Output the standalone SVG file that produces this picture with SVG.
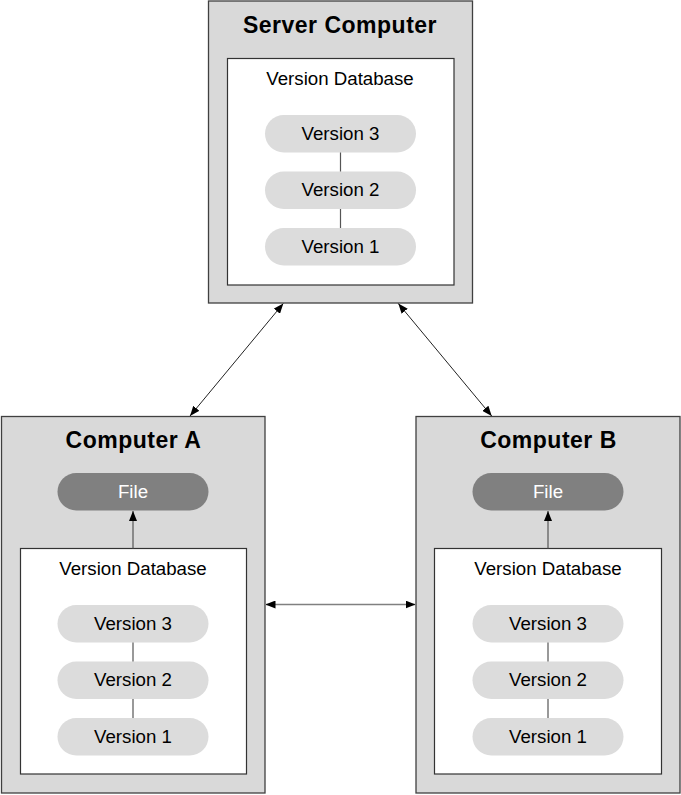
<svg xmlns="http://www.w3.org/2000/svg" width="681" height="795" viewBox="0 0 681 795">
  <style>
    .computer { fill: #d9d9d9; stroke: #404040; stroke-width: 1.3; }
    .db { fill: #ffffff; stroke: #333333; stroke-width: 1.2; }
    .ver { fill: #dcdcdc; }
    .file { fill: #808080; }
    .title { font-family: "Liberation Sans", Arial, sans-serif; font-weight: bold; font-size: 23px; letter-spacing: 0.5px; fill: #000; text-anchor: middle; }
    .lbl { font-family: "Liberation Sans", Arial, sans-serif; font-size: 18.7px; fill: #000; text-anchor: middle; }
    .flbl { font-family: "Liberation Sans", Arial, sans-serif; font-size: 18.7px; fill: #ffffff; text-anchor: middle; }
    .link { stroke: #555555; stroke-width: 1.2; fill: none; }
    .sync { stroke: #222222; stroke-width: 1; fill: none; }
    .hsync { stroke: #808080; stroke-width: 1.6; fill: none; }
  </style>
  <defs>
    <marker id="head" viewBox="0 0 10 8" refX="10" refY="4" markerWidth="10" markerHeight="8" markerUnits="userSpaceOnUse" orient="auto-start-reverse">
      <path d="M0,0 L10,4 L0,8 Z" fill="#000"/>
    </marker>
  </defs>

  <g id="server">
    <rect class="computer" x="208.5" y="1" width="264" height="302"/>
    <text class="title" x="340" y="33">Server Computer</text>
    <rect class="db" x="227.5" y="58.5" width="226.5" height="226.5"/>
    <text class="lbl" x="340" y="84.5">Version Database</text>
    <rect class="ver" x="265" y="115" width="151" height="37.5" rx="18.75"/>
    <text class="lbl" x="340.5" y="139.5">Version 3</text>
    <rect class="ver" x="265" y="171.5" width="151" height="37.5" rx="18.75"/>
    <text class="lbl" x="340.5" y="196">Version 2</text>
    <rect class="ver" x="265" y="228" width="151" height="37.5" rx="18.75"/>
    <text class="lbl" x="340.5" y="252.5">Version 1</text>
  </g>

  <g id="computer-a">
    <rect class="computer" x="1.5" y="416.5" width="263.5" height="376.5"/>
    <text class="title" x="133.5" y="448">Computer A</text>
    <rect class="file" x="57.5" y="473" width="151" height="37.5" rx="18.75"/>
    <text class="flbl" x="133" y="497.5">File</text>
    <rect class="db" x="20.5" y="548.5" width="226" height="225.5"/>
    <text class="lbl" x="133" y="575.2">Version Database</text>
    <rect class="ver" x="57.5" y="605" width="151" height="37.5" rx="18.75"/>
    <text class="lbl" x="133" y="629.5">Version 3</text>
    <rect class="ver" x="57.5" y="661.5" width="151" height="37.5" rx="18.75"/>
    <text class="lbl" x="133" y="686">Version 2</text>
    <rect class="ver" x="57.5" y="718" width="151" height="37.5" rx="18.75"/>
    <text class="lbl" x="133" y="742.5">Version 1</text>
  </g>

  <g id="computer-b">
    <rect class="computer" x="416" y="416.5" width="264" height="376.5"/>
    <text class="title" x="548.5" y="448">Computer B</text>
    <rect class="file" x="472.5" y="473" width="151" height="37.5" rx="18.75"/>
    <text class="flbl" x="548" y="497.5">File</text>
    <rect class="db" x="434.5" y="548.5" width="227" height="225.5"/>
    <text class="lbl" x="548" y="575.2">Version Database</text>
    <rect class="ver" x="472.5" y="605" width="151" height="37.5" rx="18.75"/>
    <text class="lbl" x="548" y="629.5">Version 3</text>
    <rect class="ver" x="472.5" y="661.5" width="151" height="37.5" rx="18.75"/>
    <text class="lbl" x="548" y="686">Version 2</text>
    <rect class="ver" x="472.5" y="718" width="151" height="37.5" rx="18.75"/>
    <text class="lbl" x="548" y="742.5">Version 1</text>
  </g>

  <g id="connectors">
    <!-- version history links -->
    <line class="link" x1="340.5" y1="152.5" x2="340.5" y2="171.5"/>
    <line class="link" x1="340.5" y1="209" x2="340.5" y2="228"/>
    <line class="link" x1="133" y1="642.5" x2="133" y2="661.5"/>
    <line class="link" x1="133" y1="699" x2="133" y2="718"/>
    <line class="link" x1="548" y1="642.5" x2="548" y2="661.5"/>
    <line class="link" x1="548" y1="699" x2="548" y2="718"/>
    <!-- checkout to working file -->
    <line class="link" x1="133" y1="548.5" x2="133" y2="511" marker-end="url(#head)"/>
    <line class="link" x1="548" y1="548.5" x2="548" y2="511" marker-end="url(#head)"/>
    <!-- sync with server -->
    <line class="sync" x1="283.3" y1="303.5" x2="190" y2="416" marker-start="url(#head)" marker-end="url(#head)"/>
    <line class="sync" x1="398.3" y1="303.5" x2="491.7" y2="416" marker-start="url(#head)" marker-end="url(#head)"/>
    <!-- peer sync -->
    <line class="hsync" x1="265.5" y1="604.5" x2="415.5" y2="604.5" marker-start="url(#head)" marker-end="url(#head)"/>
  </g>
</svg>
